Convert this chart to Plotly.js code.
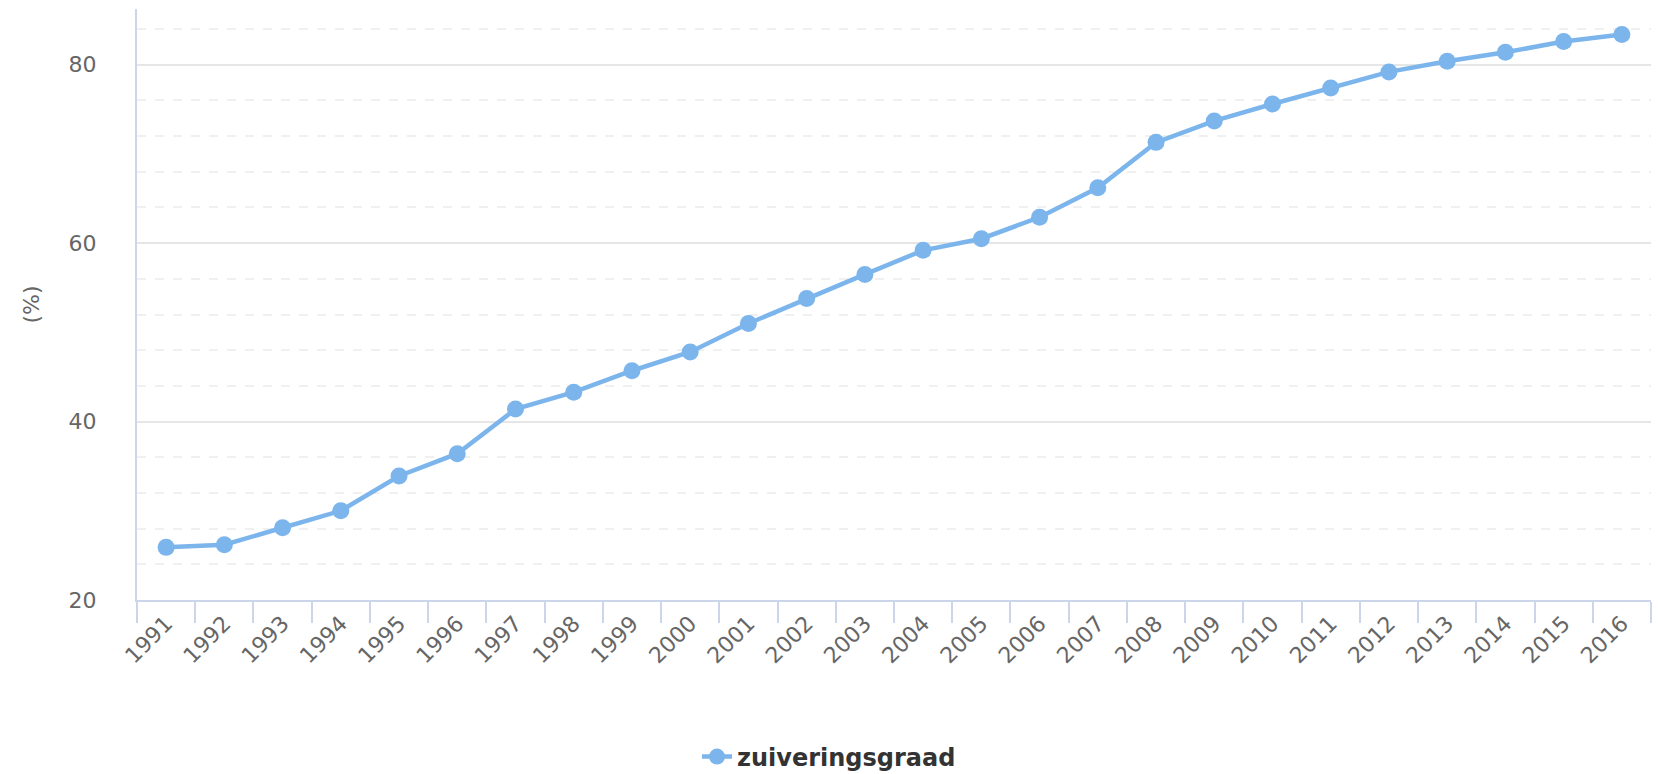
<!DOCTYPE html>
<html>
<head>
<meta charset="utf-8">
<script src="https://cdn.plot.ly/plotly-3.0.1.min.js"></script>
<style>html,body{margin:0;padding:0;background:#fff;}#chart{width:1658px;height:774px;}</style>
</head>
<body>
<div id="chart"></div>
<script>
const years = ["1991","1992","1993","1994","1995","1996","1997","1998","1999","2000","2001","2002","2003","2004","2005","2006","2007","2008","2009","2010","2011","2012","2013","2014","2015","2016"];
const zuiveringsgraad = [25.9,26.2,28.1,30.0,33.9,36.4,41.4,43.3,45.7,47.8,51.0,53.8,56.5,59.2,60.5,62.9,66.2,71.3,73.7,75.6,77.4,79.2,80.4,81.4,82.6,83.4];
const seriesName = "zuiveringsgraad";
const yTitle = "(%)";

const fontFam = "DejaVu Sans, Verdana, sans-serif";

Plotly.newPlot("chart", [{
  x: years,
  y: zuiveringsgraad,
  name: seriesName,
  type: "scatter",
  mode: "lines+markers",
  line: {color: "#7cb5ec", width: 4.5},
  marker: {color: "#7cb5ec", size: 17},
  showlegend: true
}], {
  width: 1658, height: 774,
  margin: {l: 137, r: 7, t: 9, b: 174},
  paper_bgcolor: "#ffffff",
  plot_bgcolor: "#ffffff",
  font: {family: fontFam, color: "#666666", size: 22},
  xaxis: {
    type: "category",
    range: [-0.5, 25.5],
    tickson: "boundaries",
    ticks: "outside",
    ticklen: 21,
    tickwidth: 2,
    tickcolor: "#ccd6eb",
    showline: true,
    linecolor: "#ccd6eb",
    linewidth: 2,
    showgrid: false,
    zeroline: false,
    tickangle: -45,
    tickfont: {family: fontFam, size: 22, color: "#666666"}
  },
  yaxis: {
    range: [20, 86.25],
    tickvals: [20, 40, 60, 80],
    ticks: "",
    ticklabelstandoff: 34,
    showline: true,
    linecolor: "#ccd6eb",
    linewidth: 2,
    showgrid: true,
    gridcolor: "#e6e6e6",
    gridwidth: 2,
    zeroline: false,
    minor: {dtick: 4, tick0: 0, showgrid: true, gridcolor: "#f0f0f0", gridwidth: 2, griddash: "dash", ticks: ""},
    tickfont: {family: fontFam, size: 22, color: "#666666"},
    title: {text: yTitle, font: {family: fontFam, size: 22, color: "#666666"}, standoff: 23}
  },
  legend: {
    orientation: "h",
    xref: "container", yref: "container",
    x: 0.5, xanchor: "center",
    y: 0.022, yanchor: "middle",
    font: {family: fontFam, size: 24, color: "#333333", weight: "bold"},
    bgcolor: "rgba(0,0,0,0)"
  },
  showlegend: true
}, {displayModeBar: false, staticPlot: true});
</script>
</body>
</html>
